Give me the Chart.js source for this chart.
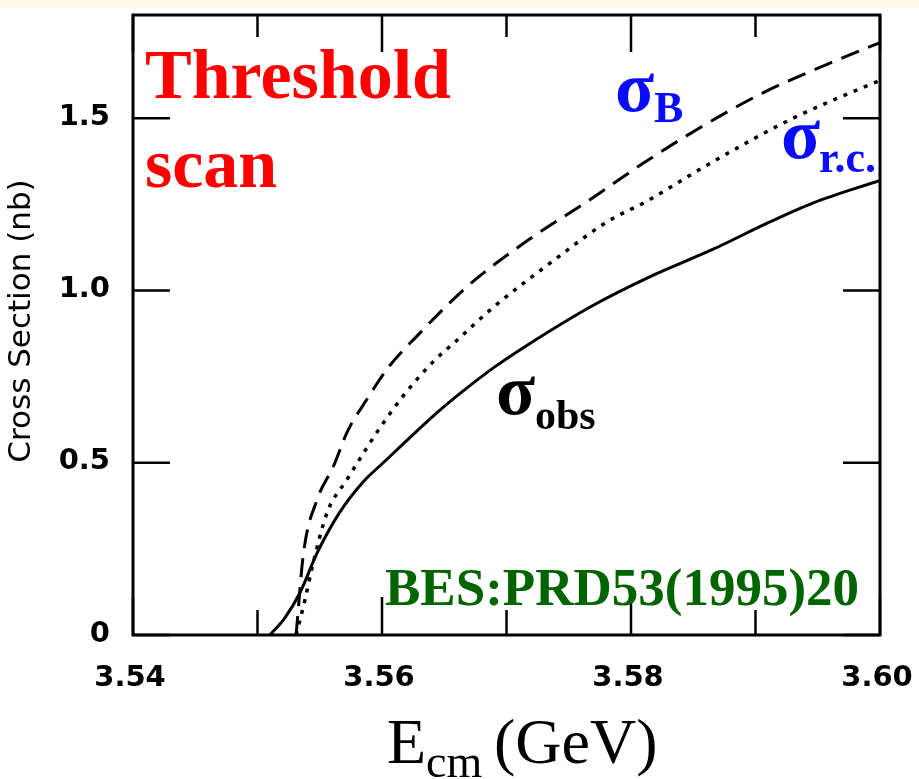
<!DOCTYPE html>
<html>
<head>
<meta charset="utf-8">
<script src="https://cdn.jsdelivr.net/npm/chart.js@4.4.1/dist/chart.umd.min.js"></script>
<style>
  html, body { margin: 0; padding: 0; background: #ffffff; }
  #wrap { width: 919px; height: 779px; position: relative; }
</style>
</head>
<body>
<div id="wrap"><canvas id="c" width="919" height="779"></canvas></div>
<script>
// ---- data ----
const bornE = [3.5531, 3.5537, 3.5548, 3.5561, 3.5572, 3.5588, 3.5606, 3.5630, 3.5652, 3.5673, 3.5716, 3.5765, 3.5810, 3.5855, 3.5906, 3.5957, 3.6000];
const bornS = [0, 0.239, 0.394, 0.49, 0.589, 0.685, 0.781, 0.875, 0.956, 1.026, 1.143, 1.259, 1.37, 1.472, 1.574, 1.656, 1.72];

const rcE = [3.5531, 3.5538, 3.5544, 3.5556, 3.5572, 3.5582, 3.5596, 3.5617, 3.5641, 3.5660, 3.5689, 3.5737, 3.5781, 3.5813, 3.5861, 3.5930, 3.5992, 3.6000];
const rcS = [0, 0.10, 0.198, 0.356, 0.452, 0.51, 0.589, 0.694, 0.793, 0.855, 0.95, 1.085, 1.20, 1.26, 1.364, 1.50, 1.598, 1.61];

const obsE = [3.5510, 3.5522, 3.5534, 3.5548, 3.5566, 3.5585, 3.5601, 3.5620, 3.5644, 3.5665, 3.5690, 3.5716, 3.5769, 3.5815, 3.5866, 3.5909, 3.5946, 3.6000];
const obsS = [0, 0.05, 0.122, 0.239, 0.356, 0.445, 0.50, 0.565, 0.645, 0.708, 0.777, 0.84, 0.956, 1.04, 1.12, 1.195, 1.254, 1.32];

const xLabelTicks = [3.54, 3.56, 3.58, 3.60];
const xMinorTicks = [3.55, 3.57, 3.59];
const yTicks = [0, 0.5, 1.0, 1.5];
const xRange = [3.54, 3.60];
const yRange = [0, 1.8];

const titleLines = ["Threshold", "scan"];
const sourceText = "BES:PRD53(1995)20";
const yTitle = "Cross Section (nb)";

function pts(xs, ys) { return xs.map((x, i) => ({ x: x, y: ys[i] })); }
function fmtX(v) { return Number(v).toFixed(2); }
function fmtY(v) { return v === 0 ? '0' : Number(v).toFixed(1); }

const framePlugin = {
  id: 'frame',
  beforeDraw(chart) {
    const ctx = chart.ctx;
    ctx.save();
    ctx.fillStyle = '#fdfbe4';
    ctx.fillRect(0, 0, chart.width, 8);
    ctx.restore();
  },
  afterDatasetsDraw(chart) {
    const ctx = chart.ctx;
    const a = chart.chartArea;
    const xs = chart.scales.x, ys = chart.scales.y;
    ctx.save();
    ctx.strokeStyle = '#000';
    ctx.lineWidth = 3;
    ctx.lineCap = 'butt';
    ctx.strokeRect(a.left, a.top, a.right - a.left, a.bottom - a.top);
    ctx.lineWidth = 2.5;
    ctx.beginPath();
    xLabelTicks.forEach(v => {
      const px = xs.getPixelForValue(v);
      ctx.moveTo(px, a.bottom); ctx.lineTo(px, a.bottom - 38);
      ctx.moveTo(px, a.top); ctx.lineTo(px, a.top + 37);
    });
    xMinorTicks.forEach(v => {
      const px = xs.getPixelForValue(v);
      ctx.moveTo(px, a.bottom); ctx.lineTo(px, a.bottom - 25);
      ctx.moveTo(px, a.top); ctx.lineTo(px, a.top + 22);
    });
    yTicks.forEach(v => {
      const py = ys.getPixelForValue(v);
      ctx.moveTo(a.left, py); ctx.lineTo(a.left + 37, py);
      ctx.moveTo(a.right, py); ctx.lineTo(a.right - 37, py);
    });
    ctx.stroke();

    // tick labels, placed through the scales
    ctx.fillStyle = '#000';
    ctx.font = 'bold 29px "DejaVu Sans"';
    ctx.textBaseline = 'middle';
    ctx.textAlign = 'center';
    xs.ticks.forEach(t => {
      ctx.fillText(fmtX(t.value), xs.getPixelForValue(t.value) - 3, a.bottom + 43);
    });
    ctx.textAlign = 'right';
    ys.ticks.forEach(t => {
      ctx.fillText(fmtY(t.value), a.left - 23, ys.getPixelForValue(t.value) - 1);
    });
    ctx.restore();
  },
  afterDraw(chart) {
    const ctx = chart.ctx;
    ctx.save();
    ctx.textAlign = 'left';
    ctx.textBaseline = 'alphabetic';
    // Threshold scan
    ctx.fillStyle = '#ff0000';
    ctx.font = 'bold 70px "Liberation Serif"';
    ctx.fillText(titleLines[0], 145, 98);
    ctx.fillText(titleLines[1], 145, 187);
    // sigma_B
    ctx.fillStyle = '#0a0aff';
    ctx.font = 'bold 72px "Liberation Serif"';
    ctx.fillText('σ', 615, 111);
    ctx.font = 'bold 44px "Liberation Serif"';
    ctx.fillText('B', 654, 122);
    // sigma_r.c.
    ctx.font = 'bold 72px "Liberation Serif"';
    ctx.fillText('σ', 781, 158);
    ctx.font = 'bold 44px "Liberation Serif"';
    ctx.fillText('r.c.', 819, 172);
    // sigma_obs
    ctx.fillStyle = '#000000';
    ctx.font = 'bold 72px "Liberation Serif"';
    ctx.fillText('σ', 496, 414);
    ctx.font = 'bold 42px "Liberation Serif"';
    ctx.fillText('obs', 535, 429);
    // source
    ctx.fillStyle = '#006400';
    ctx.font = 'bold 53px "Liberation Serif"';
    ctx.fillText(sourceText, 385, 605);
    // x title
    ctx.fillStyle = '#000000';
    ctx.font = '64px "Liberation Serif"';
    ctx.fillText('E', 387, 763);
    ctx.font = '46px "Liberation Serif"';
    ctx.fillText('cm', 426, 777);
    ctx.font = '64px "Liberation Serif"';
    ctx.fillText('(GeV)', 494, 763);
    // y title
    ctx.translate(22, 321);
    ctx.rotate(-Math.PI / 2);
    ctx.textAlign = 'center';
    ctx.textBaseline = 'middle';
    ctx.font = '31px "DejaVu Sans"';
    ctx.fillText(yTitle, 0, 0);
    ctx.restore();
  }
};

new Chart(document.getElementById('c'), {
  type: 'scatter',
  data: {
    datasets: [
      { label: 'sigma_B', data: pts(bornE, bornS), showLine: true, borderColor: '#000', borderWidth: 3, borderDash: [19, 10], pointRadius: 0, cubicInterpolationMode: 'monotone', fill: false },
      { label: 'sigma_rc', data: pts(rcE, rcS), showLine: true, borderColor: '#000', borderWidth: 3.5, borderDash: [4, 7], pointRadius: 0, cubicInterpolationMode: 'monotone', fill: false },
      { label: 'sigma_obs', data: pts(obsE, obsS), showLine: true, borderColor: '#000', borderWidth: 3, pointRadius: 0, cubicInterpolationMode: 'monotone', fill: false }
    ]
  },
  options: {
    responsive: false,
    animation: false,
    devicePixelRatio: 1,
    layout: { padding: { left: 0, right: 39, top: 15, bottom: 0 } },
    plugins: { legend: { display: false }, tooltip: { enabled: false } },
    scales: {
      x: {
        type: 'linear', min: xRange[0], max: xRange[1],
        afterBuildTicks(s) { s.ticks = xLabelTicks.map(v => ({ value: v })); },
        afterFit(s) { s.height = 144; },
        grid: { display: false, drawTicks: false },
        border: { display: false },
        ticks: { display: false }
      },
      y: {
        type: 'linear', min: yRange[0], max: yRange[1],
        afterBuildTicks(s) { s.ticks = yTicks.map(v => ({ value: v })); },
        afterFit(s) { s.width = 133; },
        grid: { display: false, drawTicks: false },
        border: { display: false },
        ticks: { display: false }
      }
    }
  },
  plugins: [framePlugin]
});
</script>
</body>
</html>
